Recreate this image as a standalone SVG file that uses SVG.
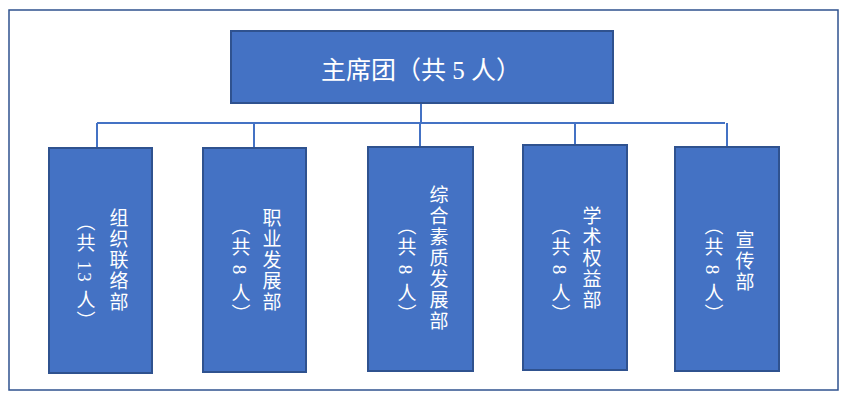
<svg xmlns="http://www.w3.org/2000/svg" width="848" height="401" viewBox="0 0 848 401">
<style>
.box{fill:#4472C4;stroke:#2F528F;stroke-width:2}
.t{fill:#fff;font-family:"Liberation Serif","Noto Sans CJK SC",serif}
.v{writing-mode:vertical-rl;font-size:19px;letter-spacing:2px}
.c{fill:none;stroke:#4472C4;stroke-width:2}
</style>
<rect x="0" y="0" width="848" height="401" fill="#fff"/>
<rect x="9" y="10" width="829" height="380" fill="none" stroke="#2F528F" stroke-width="1.5"/>
<g id="connectors">
<path class="c" d="M421 103V123M97 123H725M97 123V148M254 123V148M420 123V147M575 123V145M727 123V147"/>
</g>
<g id="top"><rect class="box" x="231" y="31" width="382" height="72"/>
<text class="t" x="421" y="79" font-size="25" text-anchor="middle">主席团（共 5 人）</text></g>
<g id="n1"><rect class="box" x="49" y="148" width="103" height="225"/>
<text class="t v" x="117" y="208">组织联络部</text><text class="t v" x="84" y="212">（共 13 人）</text></g>
<g id="n2"><rect class="box" x="203" y="148" width="103" height="224"/>
<text class="t v" x="270" y="208">职业发展部</text><text class="t v" x="239" y="216">（共 8 人）</text></g>
<g id="n3"><rect class="box" x="368" y="147" width="105" height="224"/>
<text class="t v" x="437" y="185">综合素质发展部</text><text class="t v" x="405" y="216">（共 8 人）</text></g>
<g id="n4"><rect class="box" x="523" y="145" width="104" height="225"/>
<text class="t v" x="590" y="206">学术权益部</text><text class="t v" x="559" y="216">（共 8 人）</text></g>
<g id="n5"><rect class="box" x="675" y="147" width="104" height="224"/>
<text class="t v" x="743" y="230">宣传部</text><text class="t v" x="712" y="216">（共 8 人）</text></g>
</svg>
